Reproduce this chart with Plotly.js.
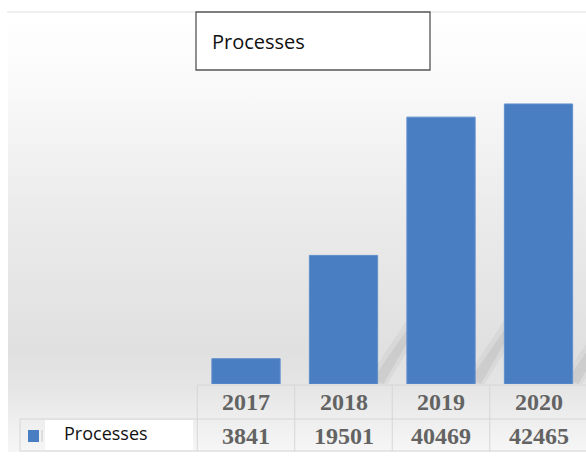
<!DOCTYPE html>
<html>
<head>
<meta charset="utf-8">
<script src="https://cdn.plot.ly/plotly-3.0.1.min.js"></script>
<style>
  html, body { margin: 0; padding: 0; background: #ffffff; }
  #chart { width: 586px; height: 457px; }
</style>
</head>
<body>
<div id="chart"></div>
<script>
// ---- data ----
const years = ['2017', '2018', '2019', '2020'];
const processes = [3841, 19501, 40469, 42465];
const seriesName = 'Processes';
const chartTitle = 'Processes';

// ---- helpers (pixel -> paper, margins are zero) ----
const W = 586, H = 457;
const px = v => v / W;
const py = v => 1 - v / H;

const barColor = '#4a7ec2';
const gridColor = '#d6d6d6';
const xDomain = [px(20), 1];
const xRange = [-2.318, 3.487];
const barWidth = 0.7;
// category position -> paper x (same mapping as the x axis)
const catX = c => xDomain[0] + (c - xRange[0]) / (xRange[1] - xRange[0]) * (xDomain[1] - xDomain[0]);

const bgSvg = '<svg xmlns="http://www.w3.org/2000/svg" width="578" height="438" preserveAspectRatio="none">' +
  '<defs><linearGradient id="g" x1="0" y1="0" x2="0" y2="1">' +
  '<stop offset="0" stop-color="#ffffff"/>' +
  '<stop offset="0.15" stop-color="#fafafa"/>' +
  '<stop offset="0.43" stop-color="#ececec"/>' +
  '<stop offset="0.77" stop-color="#e0e0e0"/>' +
  '<stop offset="0.85" stop-color="#e5e5e5"/>' +
  '<stop offset="0.925" stop-color="#eeeeee"/>' +
  '<stop offset="1" stop-color="#f6f6f6"/>' +
  '</linearGradient></defs><rect width="578" height="438" fill="url(#g)"/></svg>';
const bgUri = 'data:image/svg+xml;charset=utf-8,' + encodeURIComponent(bgSvg);

const trace = {
  type: 'bar',
  x: years,
  y: processes,
  name: seriesName,
  width: barWidth,
  marker: { color: barColor, line: { color: '#5f8fcc', width: 1 } },
  hoverinfo: 'skip'
};

const shapes = [];
// soft floor shadows behind the taller bars
years.forEach((yr, i) => {
  if (i === 0) return;
  const xa = catX(i + barWidth / 2), xb = catX(i + 1 - barWidth / 2), xm = catX(i + barWidth / 2 + 0.1);
  const P = (x, y) => `${(x * W).toFixed(1)},${(y).toFixed(1)}`;
  // paths in paper coords: build with paper values
  const path = pts => 'M ' + pts.map(p => `${p[0].toFixed(4)},${p[1].toFixed(4)}`).join(' L ') + ' Z';
  shapes.push({ type: 'path', xref: 'paper', yref: 'paper', layer: 'below',
    path: path([[xa, py(384)], [xa, py(364)], [xb, py(320)], [xb, py(352)], [xm, py(384)]]),
    fillcolor: 'rgba(60,60,60,0.05)', line: { width: 0 } });
  shapes.push({ type: 'path', xref: 'paper', yref: 'paper', layer: 'below',
    path: path([[xa, py(382)], [xa, py(372)], [xb, py(330)], [xb, py(343)], [catX(i + barWidth / 2 + 0.06), py(384)]]),
    fillcolor: 'rgba(60,60,60,0.08)', line: { width: 0 } });
});
// top border line
shapes.push({ type: 'line', xref: 'paper', yref: 'paper', x0: px(7), x1: px(586), y0: py(12), y1: py(12),
  line: { color: '#e0e0e0', width: 1 }, layer: 'below' });
// title box
shapes.push({ type: 'rect', xref: 'paper', yref: 'paper', x0: px(196), x1: px(430), y0: py(12), y1: py(70),
  fillcolor: '#ffffff', line: { color: '#555555', width: 1.3 }, layer: 'above' });
// table horizontal lines
shapes.push({ type: 'line', xref: 'x', yref: 'paper', x0: -0.5, x1: years.length - 0.5, y0: py(385), y1: py(385),
  line: { color: gridColor, width: 1 } });
shapes.push({ type: 'line', xref: 'paper', yref: 'paper', x0: px(20), x1: px(586), y0: py(419), y1: py(419),
  line: { color: gridColor, width: 1 } });
shapes.push({ type: 'line', xref: 'paper', yref: 'paper', x0: px(20), x1: px(586), y0: py(451), y1: py(451),
  line: { color: gridColor, width: 1 } });
// legend cell left border
shapes.push({ type: 'line', xref: 'paper', yref: 'paper', x0: px(20), x1: px(20), y0: py(419), y1: py(451),
  line: { color: gridColor, width: 1 } });
// table vertical lines at category boundaries
years.forEach((y, i) => {
  shapes.push({ type: 'line', xref: 'x', yref: 'paper', x0: i - 0.5, x1: i - 0.5, y0: py(385), y1: py(451),
    line: { color: gridColor, width: 1 } });
});
// white legend label cell
shapes.push({ type: 'rect', xref: 'paper', yref: 'paper', x0: px(45), x1: px(193), y0: py(420), y1: py(450),
  fillcolor: '#ffffff', line: { width: 0 } });
// legend key square
shapes.push({ type: 'rect', xref: 'paper', yref: 'paper', x0: px(28), x1: px(39), y0: py(430), y1: py(442),
  fillcolor: barColor, line: { width: 0 } });
shapes.push({ type: 'line', xref: 'paper', yref: 'paper', x0: px(42), x1: px(42), y0: py(430), y1: py(442),
  line: { color: '#c8c8c8', width: 1 } });

const annotations = [];
const serif = { family: 'Liberation Serif, Times New Roman, serif', size: 24, color: '#636363' };
years.forEach((yr, i) => {
  annotations.push({ xref: 'x', yref: 'paper', x: i, y: py(402), text: '<b>' + yr + '</b>', showarrow: false,
    xanchor: 'center', yanchor: 'middle', font: serif });
  annotations.push({ xref: 'x', yref: 'paper', x: i, y: py(436), text: '<b>' + String(processes[i]) + '</b>', showarrow: false,
    xanchor: 'center', yanchor: 'middle', font: serif });
});
annotations.push({ xref: 'paper', yref: 'paper', x: px(62), y: py(433), text: seriesName, showarrow: false,
  xanchor: 'left', yanchor: 'middle', font: { family: 'Open Sans, sans-serif', size: 18, color: '#111111' } });

const layout = {
  width: W, height: H,
  margin: { l: 0, r: 0, t: 0, b: 0, pad: 0 },
  paper_bgcolor: '#ffffff',
  plot_bgcolor: 'rgba(0,0,0,0)',
  showlegend: false,
  title: {
    text: chartTitle,
    xref: 'paper', yref: 'paper',
    x: px(212), xanchor: 'left',
    y: py(42), yanchor: 'middle',
    font: { family: 'Open Sans, sans-serif', size: 20, color: '#111111' }
  },
  xaxis: {
    type: 'category',
    domain: xDomain,
    range: xRange,
    showgrid: false, zeroline: false, showline: false,
    showticklabels: false, ticks: '', fixedrange: true
  },
  yaxis: {
    domain: [py(384), py(80)],
    range: [0, 46100],
    showgrid: false, zeroline: false, showline: false,
    showticklabels: false, ticks: '', fixedrange: true
  },
  images: [{
    source: bgUri, xref: 'paper', yref: 'paper',
    x: px(8), y: py(14), sizex: (586 - 8) / W, sizey: (452 - 14) / H,
    xanchor: 'left', yanchor: 'top', sizing: 'stretch', layer: 'below'
  }],
  shapes: shapes,
  annotations: annotations
};

Plotly.newPlot('chart', [trace], layout, { staticPlot: true, displayModeBar: false });
</script>
</body>
</html>
